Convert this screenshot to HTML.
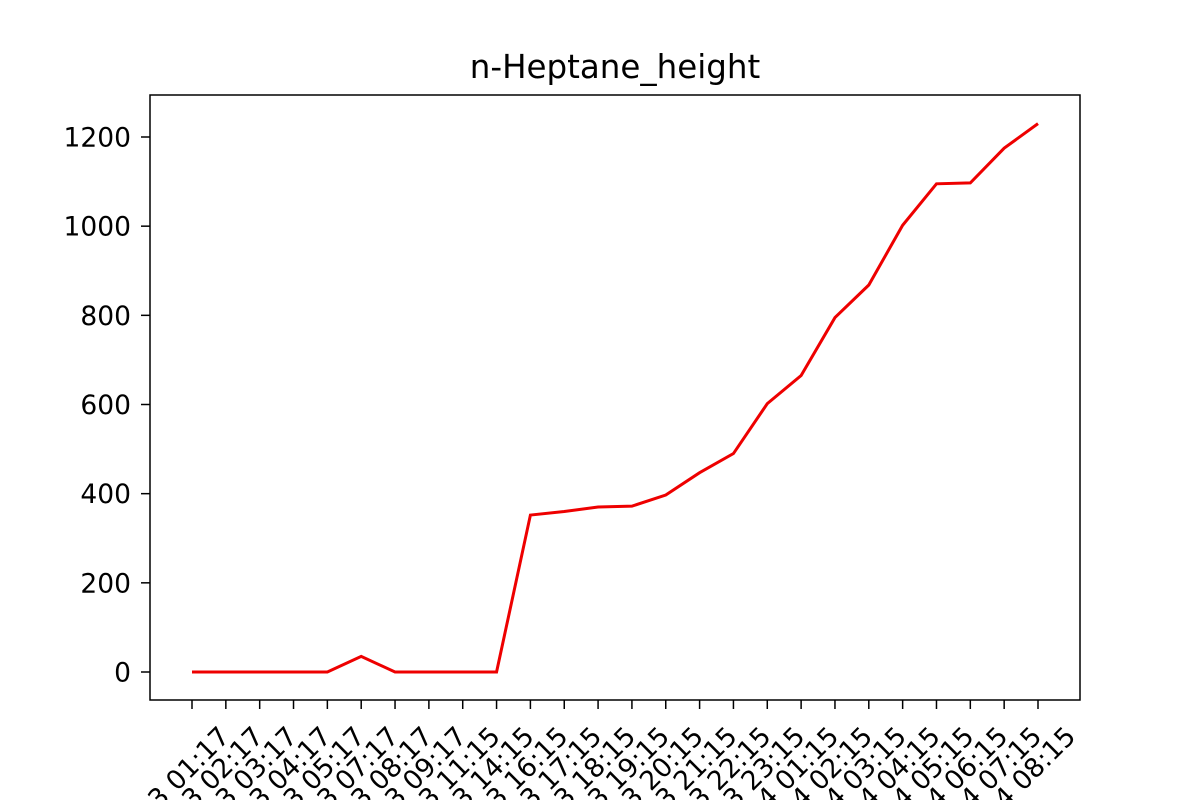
<!DOCTYPE html>
<html><head><meta charset="utf-8"><style>html,body{margin:0;background:#fff;overflow:hidden;width:1200px;height:800px}svg{display:block;font-family:"DejaVu Sans","Liberation Sans",sans-serif}</style></head>
<body>
<svg id="c" width="1200" height="800"></svg>
<script>
const categories=["2023-01-13 01:17","2023-01-13 02:17","2023-01-13 03:17","2023-01-13 04:17","2023-01-13 05:17","2023-01-13 07:17","2023-01-13 08:17","2023-01-13 09:17","2023-01-13 11:15","2023-01-13 14:15","2023-01-13 16:15","2023-01-13 17:15","2023-01-13 18:15","2023-01-13 19:15","2023-01-13 20:15","2023-01-13 21:15","2023-01-13 22:15","2023-01-13 23:15","2023-01-14 01:15","2023-01-14 02:15","2023-01-14 03:15","2023-01-14 04:15","2023-01-14 05:15","2023-01-14 06:15","2023-01-14 07:15","2023-01-14 08:15"];
const values=[0,0,0,0,0,35,0,0,0,0,352,360,370,372,397,447,490,602,665,795,868,1002,1095,1097,1175,1230];
const yTicks=[0,200,400,600,800,1000,1200];
const NS="http://www.w3.org/2000/svg",svg=document.getElementById('c');
function mk(t,a,txt){const e=document.createElementNS(NS,t);for(const k in a)e.setAttribute(k,a[k]);if(txt!=null)e.textContent=txt;svg.appendChild(e);return e;}
const L=150,R=1080,T=95,B=700;
const x=i=>192+i*(1038-192)/(categories.length-1);
const y=v=>672-v*(672-137)/1200;
let e=mk('text',{x:615,y:78,'text-anchor':'middle','font-size':32.5},'n-Heptane_height');


yTicks.forEach(v=>{
 let t=mk('line',{x1:L-9,x2:L,y1:y(v),y2:y(v),stroke:'#000','stroke-width':1.5});
 
 
 let l=mk('text',{x:L-19,y:y(v)+9.5,'text-anchor':'end','font-size':26.5},String(v));
 
 
});
categories.forEach((c,i)=>{
 let t=mk('line',{x1:x(i),x2:x(i),y1:B,y2:B+9,stroke:'#000','stroke-width':1.5});
 
 
 let l=mk('text',{x:0,y:0,'text-anchor':'end','font-size':26.5,transform:`translate(${x(i)+39},${B+38}) rotate(-45)`},c);
 
 
});
let p=mk('polyline',{points:values.map((v,i)=>x(i)+','+y(v)).join(' '),fill:'none',stroke:'#e00','stroke-width':3});


let f=mk('rect',{x:L,y:T,width:R-L,height:B-T,fill:'none',stroke:'#000','stroke-width':1.5});


</script>
</body></html>
